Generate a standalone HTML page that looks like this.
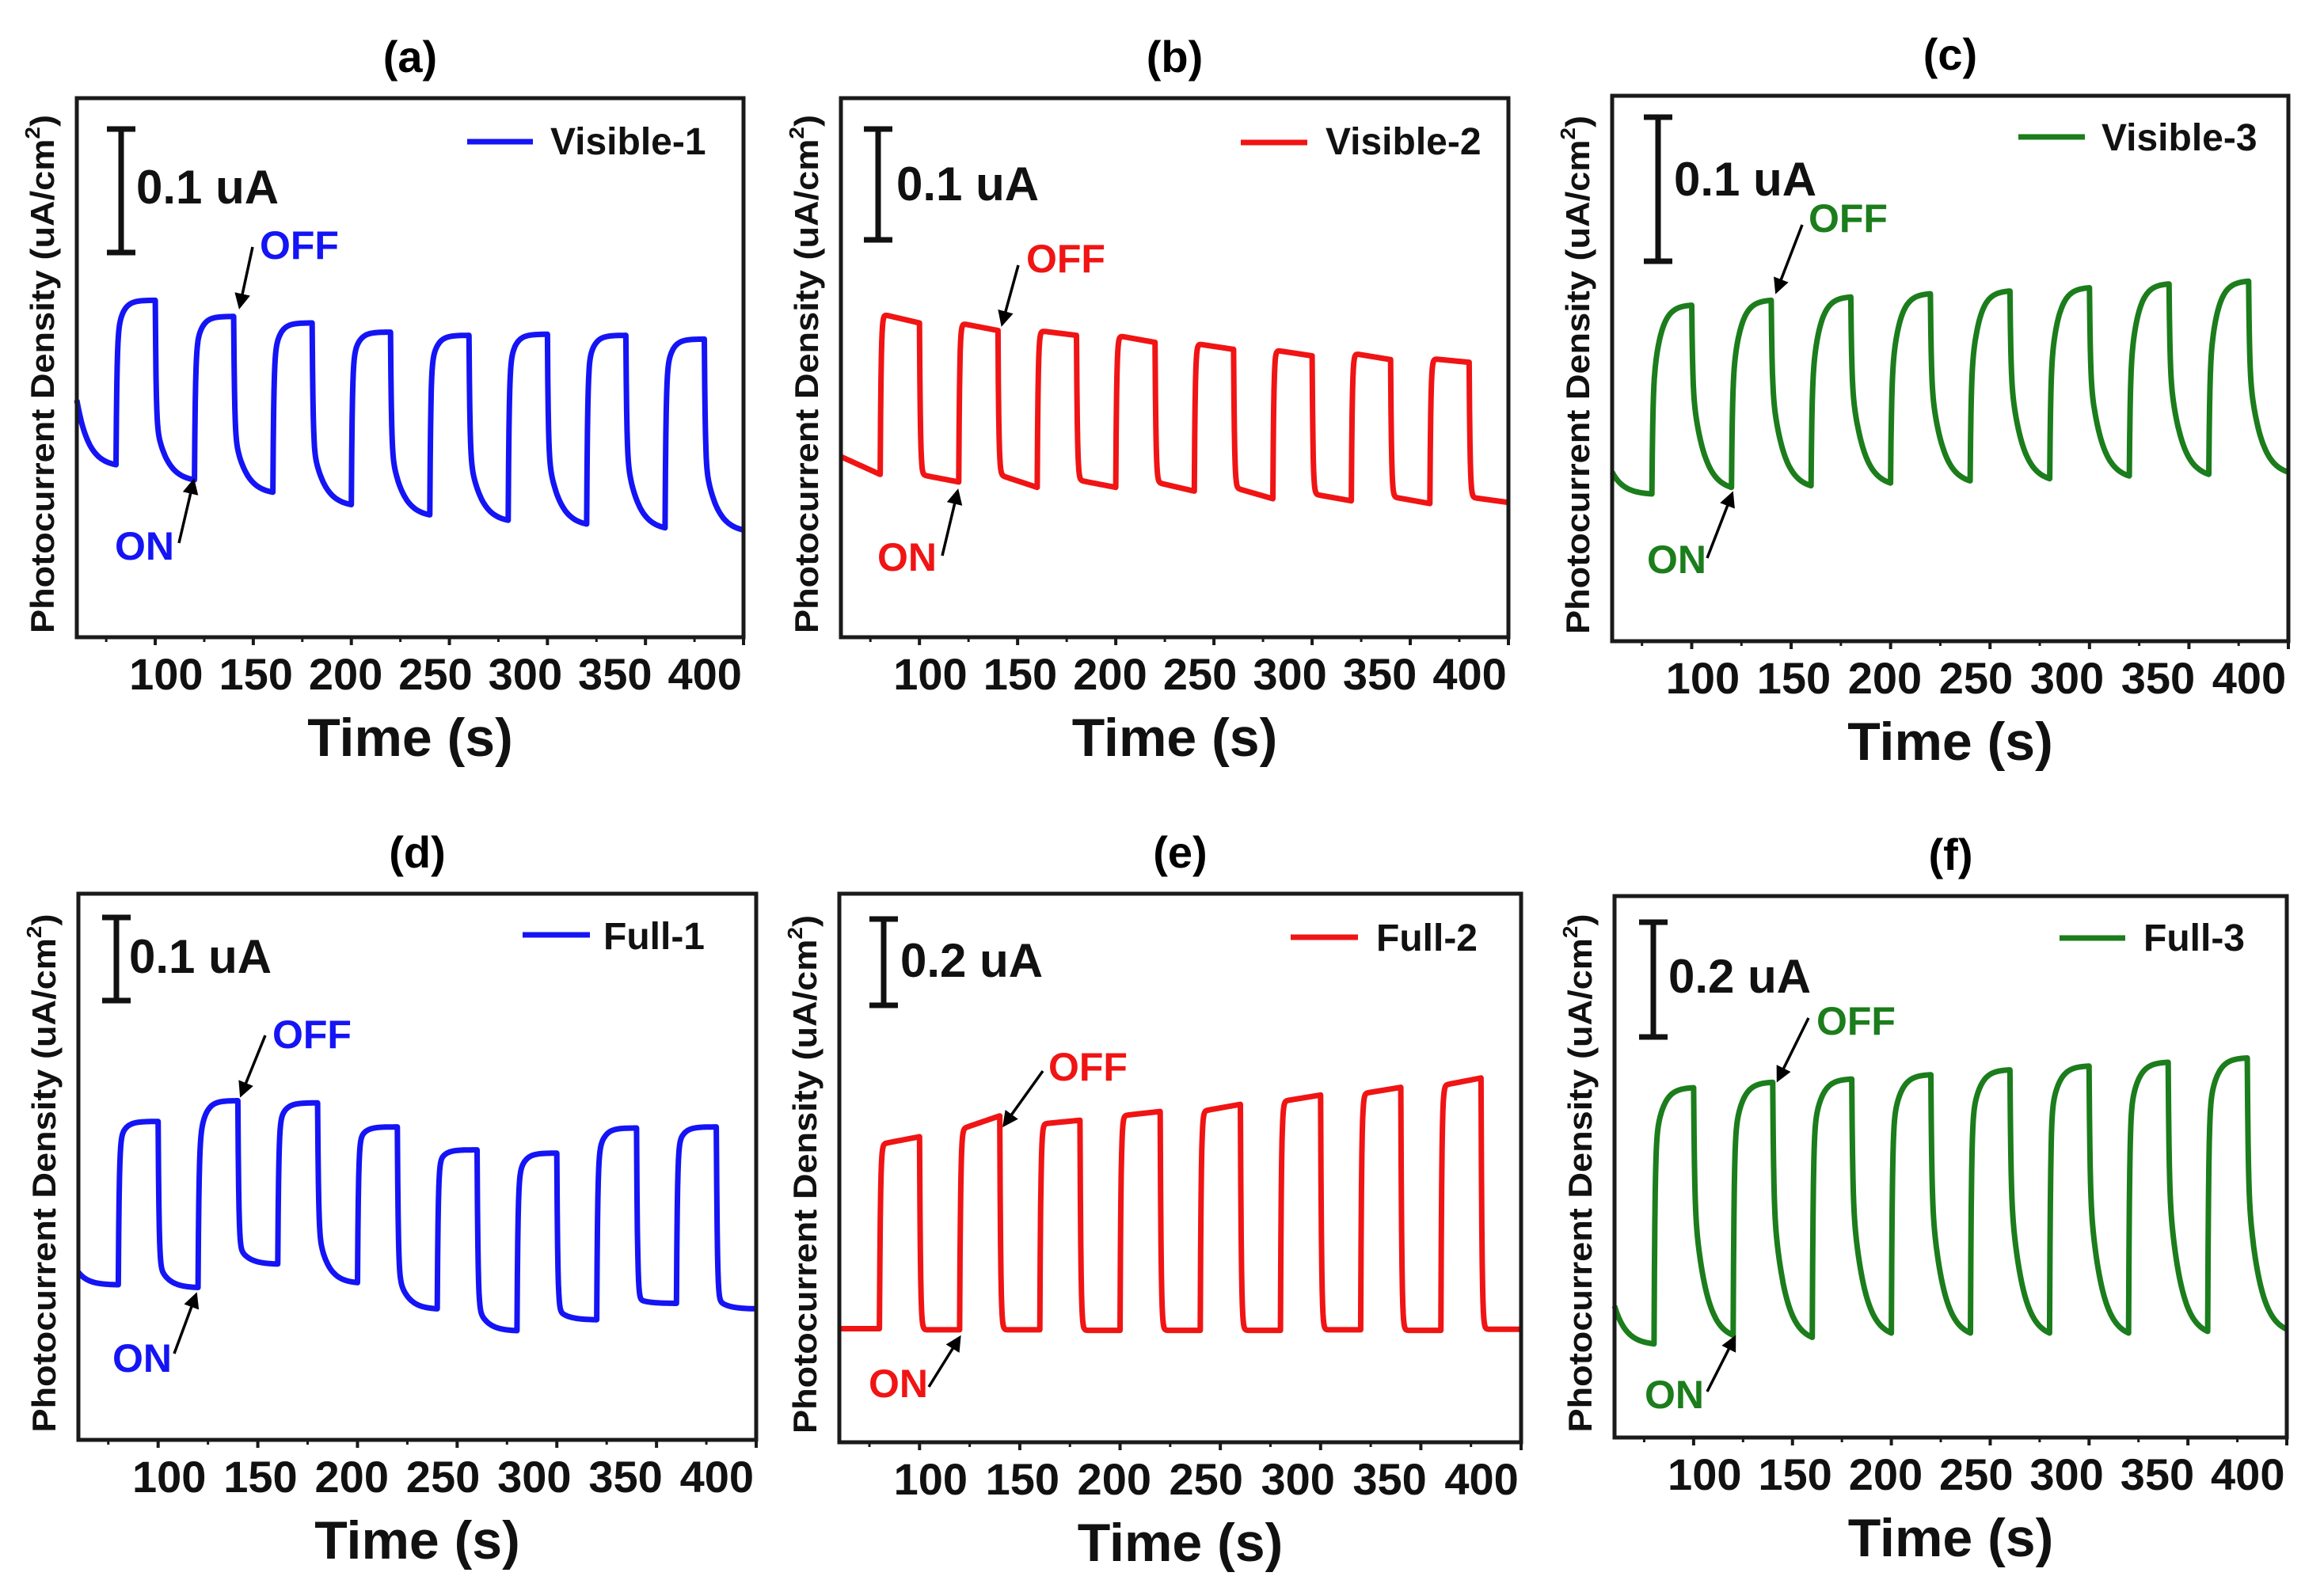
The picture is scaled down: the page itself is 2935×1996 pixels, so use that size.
<!DOCTYPE html>
<html><head><meta charset="utf-8"><style>
html,body{margin:0;padding:0;background:#fff;}
svg{display:block;font-family:"Liberation Sans",Arial,sans-serif;font-weight:bold;}
</style></head><body>
<svg id="fig" width="2935" height="1996" viewBox="0 0 2935 1996" xmlns="http://www.w3.org/2000/svg"></svg>
<script>
// ---- shared axis data ----
const xTicks = [100,150,200,250,300,350,400];
const xMinorTicks = [75,125,175,225,275,325,375];
const onTimes = [80,120,160,200,240,280,320,360];

// ---- panel (a) Visible-1 ----
const aOnFirst  = [55,52,51,50,49,49,49,48];
const aOnLast   = [62.5,59.5,58.3,56.6,56,56.2,56,55.3];
const aOffFirst = [44,40,38,36,35,34,34,34,33];
const aOffLast  = [32,29.2,26.9,24.6,22.7,21.7,21,20.3,19.9];
// ---- panel (b) Visible-2 ----
const bOnFirst  = [60,58.3,56.9,56,54.5,53.3,52.7,51.7];
const bOnLast   = [58.3,56.9,56,54.7,53.4,52.2,51.5,51];
const bOffFirst = [33.5,30.2,30.2,29.2,28.8,27.8,26.6,26.1,26];
const bOffLast  = [30.2,28.8,27.8,27.8,27.1,25.7,25.3,24.8,25];
// ---- panel (c) Visible-3 ----
const cOnFirst  = [45,46,46,47,47,48,48,49];
const cOnLast   = [61.6,62.5,63.1,63.7,64.2,64.8,65.5,66];
const cOffFirst = [31,47,47,48,48,49,49,50,50];
const cOffLast  = [27,28.2,28.5,29,29.4,29.8,30.3,30.6,31];
// ---- panel (d) Full-1 ----
const dOnFirst  = [54,53,57,54,50,47,51,53];
const dOnLast   = [58.3,62.1,61.7,57.3,53.1,52.5,57.1,57.3];
const dOffFirst = [30.7,32.3,35.6,38.4,30.5,24.5,24,25.9,25.9];
const dOffLast  = [28.4,27.9,32.2,28.8,24,20,22,25,24];
// ---- panel (e) Full-2 ----
const eOnFirst  = [54.3,57,58,59.5,60.3,62.1,63.5,65];
const eOnLast   = [55.7,59.5,58.7,60.3,61.6,63.3,64.7,66.4];
const eOffFirst = [20.7,20.5,20.5,20.4,20.4,20.4,20.5,20.4,20.6];
const eOffLast  = [20.7,20.5,20.5,20.4,20.4,20.4,20.5,20.4,20.6];
// ---- panel (f) Full-3 ----
const fOnFirst  = [53,54,55,56,57,58,58,59];
const fOnLast   = [64.6,65.6,66.2,67,67.9,68.6,69.3,70.1];
const fOffFirst = [24.3,44,44,45,45,46,46,47,47];
const fOffLast  = [17.3,18.9,18.5,19.3,19.3,19.3,19.3,19.6,20];

const NS = "http://www.w3.org/2000/svg";
const svg = document.getElementById('fig');
function mk(tag, attrs, parent){
  const e = document.createElementNS(NS, tag);
  for (const k in attrs) e.setAttribute(k, attrs[k]);
  (parent||svg).appendChild(e);
  return e;
}

const panels = [
  {id:'a', title:'(a)', legend:'Visible-1', color:'#1414f5', scale:'0.1 uA', L:97, T:124, R:939, B:805,
   on:[aOnFirst,aOnLast], off:[aOffFirst,aOffLast], kOn:3, kOff:6,
   sb:[56,39,195], sbt:[75,133], leg:[493,576,55,598,71], offT:[231,203], offA:[222,188,206,262], onT:[48,583], onA:[129,562,147,485]},
  {id:'b', title:'(b)', legend:'Visible-2', color:'#f01414', scale:'0.1 uA', L:1062, T:124, R:1905, B:805,
   on:[bOnFirst,bOnLast], off:[bOffFirst,bOffLast], kOn:0, kOff:0,
   sb:[47,39,179], sbt:[70,129], leg:[505,589,56,612,71], offT:[234,220], offA:[224,211,204,284], onT:[46,597], onA:[128,578,147,498]},
  {id:'c', title:'(c)', legend:'Visible-3', color:'#1b7d1b', scale:'0.1 uA', L:2036, T:121, R:2890, B:810,
   on:[cOnFirst,cOnLast], off:[cOffFirst,cOffLast], kOn:4, kOff:6,
   sb:[58,27,209], sbt:[78,126], leg:[513,597,52,618,69], offT:[248,172], offA:[240,163,208,246], onT:[44,603], onA:[120,584,151,504]},
  {id:'d', title:'(d)', legend:'Full-1', color:'#1414f5', scale:'0.1 uA', L:99, T:1129, R:955, B:1819,
   on:[dOnFirst,dOnLast], off:[dOffFirst,dOffLast], kOn:3, kOff:5,
   sb:[48,30,135], sbt:[64,100], leg:[561,646,52,663,70], offT:[245,195], offA:[236,179,206,253], onT:[43,604], onA:[121,581,148,508]},
  {id:'e', title:'(e)', legend:'Full-2', color:'#f01414', scale:'0.2 uA', L:1060, T:1129, R:1921, B:1822,
   on:[eOnFirst,eOnLast], off:[eOffFirst,eOffLast], kOn:0, kOff:0,
   sb:[56,32,141], sbt:[77,105], leg:[570,655,55,678,72], offT:[264,236], offA:[257,224,209,291], onT:[37,636], onA:[113,623,151,562]},
  {id:'f', title:'(f)', legend:'Full-3', color:'#1b7d1b', scale:'0.2 uA', L:2039, T:1132, R:2888, B:1816,
   on:[fOnFirst,fOnLast], off:[fOffFirst,fOffLast], kOn:4, kOff:6,
   sb:[49,33,178], sbt:[68,122], leg:[562,645,53,668,69], offT:[255,175], offA:[245,154,207,231], onT:[38,647], onA:[117,626,151,559]}
];

mk('defs',{}).innerHTML = '<marker id="ah" markerWidth="20" markerHeight="20" refX="6" refY="4" orient="auto" markerUnits="userSpaceOnUse" viewBox="0 0 8 8"><path d="M0,0 L8,4 L0,8 z" fill="#000"/></marker>';

function segment(pts, t0, prev, first, last, k, xs, ys){
  const tau = 0.45;
  for (let t = 0; t <= 20.0001; t += 0.2){
    let base;
    if (k > 0) base = last + (first - last) * (Math.exp(-t/k) - Math.exp(-20/k)) / (1 - Math.exp(-20/k));
    else base = first + (last - first) * t / 20;
    const y = base + (prev - first) * Math.exp(-t/tau);
    pts.push([xs(t0 + t), ys(y)]);
  }
  return pts[pts.length-1];
}

panels.forEach(p => {
  const g = mk('g', {});
  
  
  const W = p.R - p.L, H = p.B - p.T;
  const xs = t => p.L + (t - 60) / 340 * W;
  const ys = v => p.B - v / 100 * H;

  const tt = mk('text', {x:p.L + W/2, y:p.T - 33, 'font-size':56, 'text-anchor':'middle', fill:'#000'}, g);
  tt.textContent = p.title;
  
  

  const pts = [];
  const onF = p.on[0], onL = p.on[1], offF = p.off[0], offL = p.off[1];
  segment(pts, 60, offF[0], offF[0], offL[0], p.kOff, xs, ys);
  for (let i = 0; i < onTimes.length; i++){
    segment(pts, onTimes[i], offL[i], onF[i], onL[i], p.kOn, xs, ys);
    segment(pts, onTimes[i] + 20, onL[i], offF[i+1], offL[i+1], p.kOff, xs, ys);
  }
  const path = mk('path', {d:'M' + pts.map(q => q[0].toFixed(1) + ',' + q[1].toFixed(1)).join(' L'), fill:'none', stroke:p.color, 'stroke-width':7, 'stroke-linejoin':'round'}, g);
  
  

  const fr = mk('rect', {x:p.L, y:p.T, width:W, height:H, fill:'none', stroke:'#1a1a1a', 'stroke-width':5}, g);
  
  

  xTicks.forEach(t => {
    const l = mk('line', {x1:xs(t), x2:xs(t), y1:p.B, y2:p.B + 10, stroke:'#1a1a1a', 'stroke-width':4}, g);
    
    
  });
  xMinorTicks.forEach(t => {
    const l = mk('line', {x1:xs(t), x2:xs(t), y1:p.B, y2:p.B + 6, stroke:'#1a1a1a', 'stroke-width':3}, g);
    
    
  });
  xTicks.forEach((t, i) => {
    const lx = p.L + W * (0.134 + i * (0.942 - 0.134) / 6);
    const tl = mk('text', {x:lx, y:p.B + 66, 'font-size':56, 'text-anchor':'middle', fill:'#111'}, g);
    tl.textContent = t;
    
    
  });
  const xt = mk('text', {x:p.L + W/2, y:p.B + 150, 'font-size':68, 'text-anchor':'middle', fill:'#111'}, g);
  xt.textContent = 'Time (s)';
  
  

  const cy = p.T + H/2 + 8;
  const yl = mk('text', {x:p.L - 40, y:cy, 'font-size':42, 'text-anchor':'middle', fill:'#111',
    transform:'rotate(-90 ' + (p.L - 40) + ' ' + cy + ')', 'dominant-baseline':'middle', textLength:655, lengthAdjust:'spacingAndGlyphs'}, g);
  yl.innerHTML = 'Photocurrent Density (uA/cm<tspan font-size="26" dy="-14">2</tspan><tspan dy="14">)</tspan>';
  
  

  const sx = p.L + p.sb[0], sy1 = p.T + p.sb[1], sy2 = p.T + p.sb[2];
  const sbg = mk('g', {stroke:'#111', 'stroke-width':7}, g);
  
  
  mk('line', {x1:sx, x2:sx, y1:sy1, y2:sy2}, sbg);
  mk('line', {x1:sx - 18, x2:sx + 18, y1:sy1, y2:sy1}, sbg);
  mk('line', {x1:sx - 18, x2:sx + 18, y1:sy2, y2:sy2}, sbg);
  const st = mk('text', {x:p.L + p.sbt[0], y:p.T + p.sbt[1], 'font-size':60, fill:'#111'}, g);
  st.textContent = p.scale;
  
  

  const lg = mk('g', {}, g);
  
  
  mk('line', {x1:p.L + p.leg[0], x2:p.L + p.leg[1], y1:p.T + p.leg[2], y2:p.T + p.leg[2], stroke:p.color, 'stroke-width':7}, lg);
  const lt = mk('text', {x:p.L + p.leg[3], y:p.T + p.leg[4], 'font-size':48, fill:'#111'}, lg);
  lt.textContent = p.legend;

  const ot = mk('text', {x:p.L + p.offT[0], y:p.T + p.offT[1], 'font-size':50, fill:p.color}, g);
  ot.textContent = 'OFF';
  
  
  const oa = mk('line', {x1:p.L + p.offA[0], y1:p.T + p.offA[1], x2:p.L + p.offA[2], y2:p.T + p.offA[3], stroke:'#000', 'stroke-width':3.5, 'marker-end':'url(#ah)'}, g);
  
  
  const nt = mk('text', {x:p.L + p.onT[0], y:p.T + p.onT[1], 'font-size':50, fill:p.color}, g);
  nt.textContent = 'ON';
  
  
  const na = mk('line', {x1:p.L + p.onA[0], y1:p.T + p.onA[1], x2:p.L + p.onA[2], y2:p.T + p.onA[3], stroke:'#000', 'stroke-width':3.5, 'marker-end':'url(#ah)'}, g);
  
  
});
</script>
</body></html>
